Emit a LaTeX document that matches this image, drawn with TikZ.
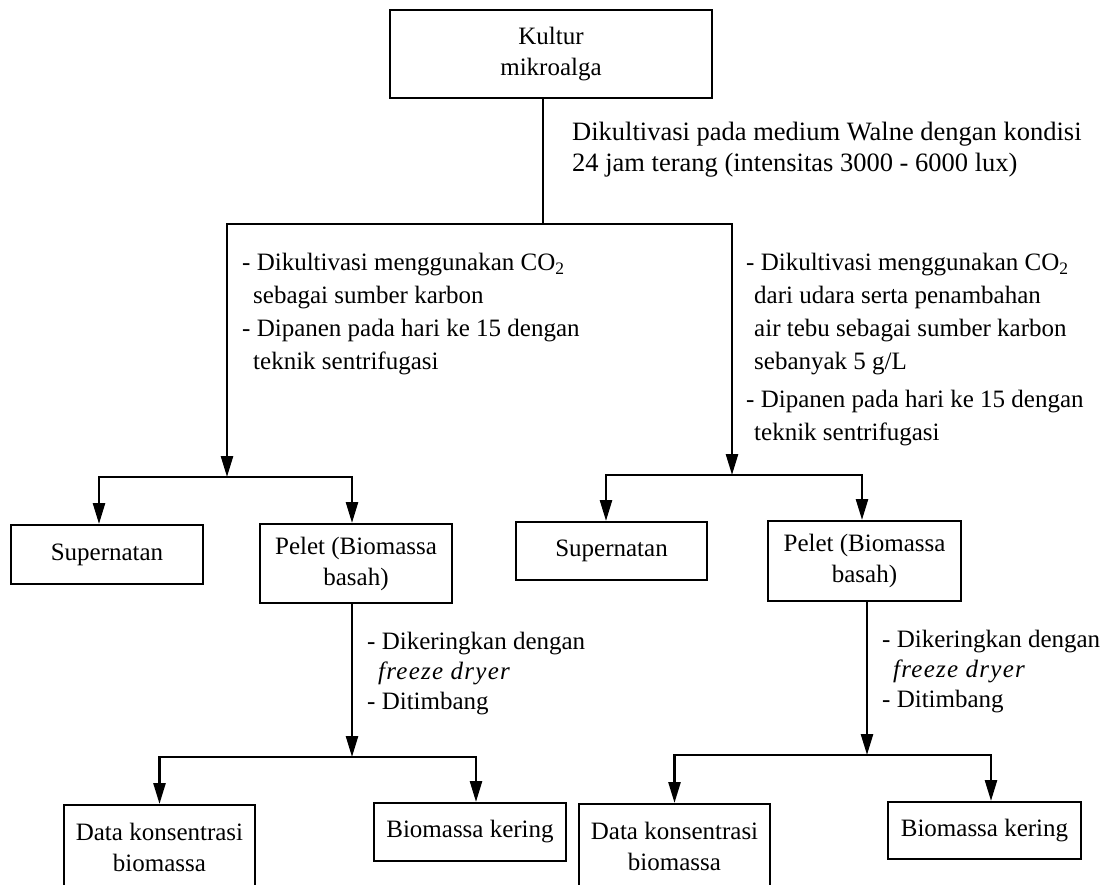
\documentclass[tikz,border=0pt]{standalone}
\usepackage{fontspec}
\setmainfont{Liberation Serif}
\newfontfamily\spacedit[LetterSpace=5]{Liberation Serif}
\usetikzlibrary{arrows.meta}
\begin{document}
\begin{tikzpicture}[x=1pt,y=-1pt,
  box/.style={draw, line width=2pt, inner sep=0pt, minimum width=192pt, align=center, font=\fontsize{25}{31}\selectfont},
  lbl/.style={inner sep=0pt, anchor=north west, align=left, font=\fontsize{25}{33}\selectfont},
  conn/.style={line width=2.6pt},
  arr/.style={conn, -{Triangle[length=21pt,width=12pt]}}]
\useasboundingbox (0,0) rectangle (1108,884);
\clip (0,0) rectangle (1108,884);
% boxes
\node[box, minimum width=322pt, minimum height=88pt] (top) at (551,54) {Kultur\\mikroalga};
\node[box, minimum height=59pt] (supL) at (107,554.5) {Supernatan};
\node[box, minimum height=79pt] (pelL) at (356,563.5) {Pelet (Biomassa\\basah)};
\node[box, minimum width=191pt, minimum height=85pt] (dataL) at (159.5,847.5) {Data konsentrasi\\biomassa};
\node[box, minimum height=58pt] (bioL) at (470,832) {Biomassa kering};
\node[box, minimum width=191pt, minimum height=58pt] (supR) at (611.5,551) {Supernatan};
\node[box, minimum width=193pt, minimum height=80pt] (pelR) at (864.5,561) {Pelet (Biomassa\\basah)};
\node[box, minimum width=191pt, minimum height=85pt] (dataR) at (674.5,846.5) {Data konsentrasi\\biomassa};
\node[box, minimum width=193pt, minimum height=57pt] (bioR) at (984.5,830.5) {Biomassa kering};
% labels
\node[lbl, font=\fontsize{26.5}{31}\selectfont] (l0) at (572,122) {Dikultivasi pada medium Walne dengan kondisi\\24 jam terang (intensitas 3000 - 6000 lux)};
\node[lbl] (l1) at (242,253) {- Dikultivasi menggunakan CO\textsubscript{2}\\\hspace*{11pt}sebagai sumber karbon\\- Dipanen pada hari ke 15 dengan\\\hspace*{11pt}teknik sentrifugasi};
\node[lbl] (l2) at (746,253) {- Dikultivasi menggunakan CO\textsubscript{2}\\\hspace*{8pt}dari udara serta penambahan\\\hspace*{8pt}air tebu sebagai sumber karbon\\\hspace*{8pt}sebanyak 5 g/L\\[5pt]- Dipanen pada hari ke 15 dengan\\\hspace*{8pt}teknik sentrifugasi};
\node[lbl, font=\fontsize{25}{30}\selectfont] (l3) at (367,632) {- Dikeringkan dengan\\\hspace*{11pt}{\spacedit\itshape freeze dryer}\\- Ditimbang};
\node[lbl, font=\fontsize{25}{30}\selectfont] (l4) at (882,630) {- Dikeringkan dengan\\\hspace*{11pt}{\spacedit\itshape freeze dryer}\\- Ditimbang};
% junctions
\coordinate (s0) at (543,224);
\coordinate (jL) at (227,477);
\coordinate (jR) at (732,475);
\coordinate (kL) at (352,757);
\coordinate (kR) at (867,755);
% connectors
\draw[conn] ([xshift=-8pt]top.south) -- (s0);
\draw[arr] (s0) -| (jL);
\draw[arr] (s0) -| (jR);
\draw[arr] (jL) -| ([xshift=-8pt]supL.north);
\draw[arr] (jL) -| ([xshift=-4pt]pelL.north);
\draw[arr] (jR) -| ([xshift=-5.5pt]supR.north);
\draw[arr] (jR) -| ([xshift=-2.5pt]pelR.north);
\draw[arr] ([xshift=-4pt]pelL.south) -- (kL);
\draw[arr] ([xshift=2.5pt]pelR.south) -- (kR);
\draw[arr] (kL) -| (dataL.north);
\draw[arr] (kL) -| ([xshift=6pt]bioL.north);
\draw[arr] (kR) -| (dataR.north);
\draw[arr] (kR) -| ([xshift=6.5pt]bioR.north);
\end{tikzpicture}
\end{document}
